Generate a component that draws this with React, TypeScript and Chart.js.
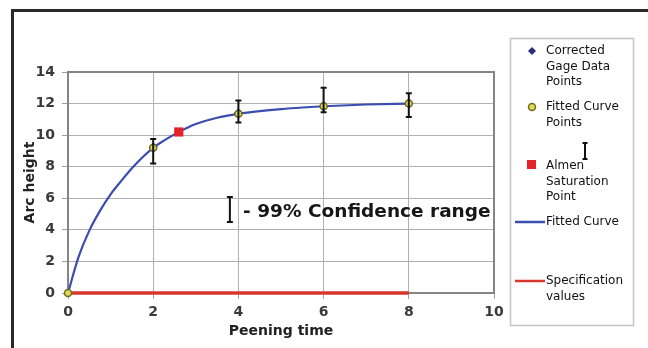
import { useEffect, useRef } from "react";
import { Chart, registerables } from "chart.js";

Chart.register(...registerables);

// ---- data ----
const gageTimes = [2, 4, 6, 8];
const gageValues = [9.25, 11.4, 11.8, 12.0];
const errLow = [8.2, 10.8, 11.45, 11.15];
const errHigh = [9.75, 12.2, 13.0, 12.65];

const fittedTimes = [0, 2, 4, 6, 8];
const fittedValues = [0, 9.2, 11.35, 11.83, 12.0];

const almenTimes = [2.6];
const almenValues = [10.2];

const curveTimes = [0, 0.25, 0.5, 0.75, 1, 1.25, 1.5, 1.75, 2, 2.25, 2.5, 2.75, 3, 3.5, 4, 4.5, 5, 5.5, 6, 7, 8];
const curveValues = [0, 2.3, 3.95, 5.2, 6.25, 7.1, 7.9, 8.6, 9.2, 9.65, 10.05, 10.4, 10.7, 11.1, 11.35, 11.52, 11.65, 11.75, 11.83, 11.94, 12.0];

const specTimes = [0, 8];
const specValues = [0, 0];

const xTickValues = [0, 2, 4, 6, 8, 10];
const yTickValues = [0, 2, 4, 6, 8, 10, 12, 14];

const seriesNames = [
  "Corrected Gage Data Points",
  "Fitted Curve Points",
  "Almen Saturation Point",
  "Fitted Curve",
  "Specification values",
];
const legendLines = [
  ["Corrected", "Gage Data", "Points"],
  ["Fitted Curve", "Points"],
  ["Almen", "Saturation", "Point"],
  ["Fitted Curve"],
  ["Specification", "values"],
];

const noteText = "- 99% Confidence range";
const noteBarX = 3.8;
const noteBarLow = 4.5;
const noteBarHigh = 6.08;
const noteTextX = 4.11;
const noteTextY = 5.13;

const xTitle = "Peening time";
const yTitle = "Arc height";

// ---- styles ----
const NAVY = "#2b2b80";
const YELLOW = "#e2da5a";
const OLIVE = "#6e6a1e";
const RED = "#e42328";
const BLUE = "#3a4db0";
const SPEC = "#d8382c";

function drawIBar(ctx: CanvasRenderingContext2D, x: number, yTop: number, yBot: number, cap: number) {
  ctx.save();
  ctx.strokeStyle = "#111";
  ctx.lineWidth = 2;
  ctx.beginPath();
  ctx.moveTo(x, yTop);
  ctx.lineTo(x, yBot);
  ctx.moveTo(x - cap / 2, yTop);
  ctx.lineTo(x + cap / 2, yTop);
  ctx.moveTo(x - cap / 2, yBot);
  ctx.lineTo(x + cap / 2, yBot);
  ctx.stroke();
  ctx.restore();
}

const framePlugin = {
  id: "framePlugin",
  beforeDraw(chart: any) {
    const ctx = chart.ctx as CanvasRenderingContext2D;
    ctx.save();
    ctx.fillStyle = "#ffffff";
    ctx.fillRect(0, 0, chart.width, chart.height);
    ctx.restore();
  },
  beforeDatasetsDraw(chart: any) {
    const ctx = chart.ctx as CanvasRenderingContext2D;
    const a = chart.chartArea;
    ctx.save();
    ctx.strokeStyle = "#858585";
    ctx.lineWidth = 2;
    ctx.strokeRect(a.left, a.top, a.right - a.left, a.bottom - a.top);
    ctx.restore();
  },
  afterDatasetsDraw(chart: any) {
    const ctx = chart.ctx as CanvasRenderingContext2D;
    const xs = chart.scales.x;
    const ys = chart.scales.y;
    gageTimes.forEach((t, i) => {
      drawIBar(ctx, xs.getPixelForValue(t), ys.getPixelForValue(errHigh[i]), ys.getPixelForValue(errLow[i]), 6);
    });
    drawIBar(ctx, xs.getPixelForValue(noteBarX), ys.getPixelForValue(noteBarHigh), ys.getPixelForValue(noteBarLow), 6);
    ctx.save();
    ctx.fillStyle = "#161616";
    ctx.font = "bold 18.5px 'DejaVu Sans'";
    ctx.textAlign = "left";
    ctx.textBaseline = "middle";
    ctx.fillText(noteText, xs.getPixelForValue(noteTextX), ys.getPixelForValue(noteTextY));
    ctx.restore();
  },
  afterDraw(chart: any) {
    const ctx = chart.ctx as CanvasRenderingContext2D;
    ctx.save();
    // outer frame lines
    ctx.strokeStyle = "#2a2a2a";
    ctx.lineWidth = 3;
    ctx.beginPath();
    ctx.moveTo(11, 10.5);
    ctx.lineTo(chart.width, 10.5);
    ctx.moveTo(12.5, 9);
    ctx.lineTo(12.5, chart.height);
    ctx.stroke();

    // legend box
    ctx.strokeStyle = "#c4c4c4";
    ctx.lineWidth = 1.5;
    ctx.strokeRect(510.5, 38.5, 123, 287);

    const tx = 546;
    ctx.font = "12px 'DejaVu Sans'";
    ctx.textAlign = "left";
    ctx.textBaseline = "middle";
    const writeLines = (lines: string[], y0: number) => {
      ctx.fillStyle = "#111";
      lines.forEach((s, i) => ctx.fillText(s, tx, y0 + i * 15.5));
    };

    // 1: diamond
    ctx.fillStyle = NAVY;
    ctx.beginPath();
    ctx.moveTo(532, 47);
    ctx.lineTo(536, 51);
    ctx.lineTo(532, 55);
    ctx.lineTo(528, 51);
    ctx.closePath();
    ctx.fill();
    writeLines(legendLines[0], 51);

    // 2: circle
    ctx.beginPath();
    ctx.arc(532, 107, 3.5, 0, Math.PI * 2);
    ctx.fillStyle = YELLOW;
    ctx.fill();
    ctx.strokeStyle = OLIVE;
    ctx.lineWidth = 1.5;
    ctx.stroke();
    writeLines(legendLines[1], 107);

    // error bar icon
    drawIBar(ctx, 585, 143, 159, 5);

    // 3: red square
    ctx.fillStyle = RED;
    ctx.fillRect(527, 160, 9, 9);
    writeLines(legendLines[2], 166);

    // 4: blue line
    ctx.strokeStyle = BLUE;
    ctx.lineWidth = 2.5;
    ctx.beginPath();
    ctx.moveTo(515, 222);
    ctx.lineTo(545, 222);
    ctx.stroke();
    writeLines(legendLines[3], 222);

    // 5: red spec line
    ctx.strokeStyle = SPEC;
    ctx.lineWidth = 2.5;
    ctx.beginPath();
    ctx.moveTo(515, 281);
    ctx.lineTo(545, 281);
    ctx.stroke();
    writeLines(legendLines[4], 281);

    ctx.restore();
  },
};

export default function App() {
  const ref = useRef<HTMLCanvasElement | null>(null);

  useEffect(() => {
    if (!ref.current) return;
    const toPts = (xs: number[], ys: number[]) => xs.map((x, i) => ({ x, y: ys[i] }));
    const chart = new Chart(ref.current, {
      type: "scatter",
      data: {
        datasets: [
          {
            label: seriesNames[2],
            data: toPts(almenTimes, almenValues),
            pointStyle: "rect",
            pointRadius: 6.5,
            backgroundColor: RED,
            borderColor: RED,
            borderWidth: 0,
            showLine: false,
            clip: false,
          },
          {
            label: seriesNames[1],
            data: toPts(fittedTimes, fittedValues),
            pointStyle: "circle",
            pointRadius: 3.5,
            backgroundColor: YELLOW,
            borderColor: OLIVE,
            borderWidth: 1.5,
            showLine: false,
            clip: false,
          },
          {
            label: seriesNames[0],
            data: toPts(gageTimes, gageValues),
            pointStyle: "rectRot",
            pointRadius: 4.5,
            backgroundColor: NAVY,
            borderColor: NAVY,
            borderWidth: 0,
            showLine: false,
            clip: false,
          },
          {
            label: seriesNames[3],
            data: toPts(curveTimes, curveValues),
            showLine: true,
            borderColor: BLUE,
            borderWidth: 2.2,
            pointRadius: 0,
            cubicInterpolationMode: "monotone",
            clip: false,
          },
          {
            label: seriesNames[4],
            data: toPts(specTimes, specValues),
            showLine: true,
            borderColor: SPEC,
            borderWidth: 3.5,
            pointRadius: 0,
            clip: false,
          },
        ],
      },
      options: {
        responsive: false,
        animation: false,
        layout: { padding: { left: 14, top: 72, right: 154, bottom: 6 } },
        plugins: {
          legend: { display: false },
          tooltip: { enabled: false },
          title: { display: false },
        },
        scales: {
          x: {
            type: "linear",
            min: 0,
            max: 10,
            afterFit: (s: any) => {
              s.height = 49;
            },
            afterBuildTicks: (s: any) => {
              s.ticks = xTickValues.map((v) => ({ value: v }));
            },
            ticks: {
              font: { family: "'DejaVu Sans'", size: 14, weight: "bold" },
              color: "#3a3a3a",
              padding: 5,
            },
            grid: { color: "#b0b0b0", lineWidth: 1, tickLength: 6, tickColor: "#a0a0a0" },
            border: { display: false },
            title: {
              display: true,
              text: xTitle,
              font: { family: "'DejaVu Sans'", size: 14, weight: "bold" },
              color: "#222",
              padding: { top: 0, bottom: 2 },
            },
          },
          y: {
            type: "linear",
            min: 0,
            max: 14,
            afterFit: (s: any) => {
              s.width = 54;
            },
            afterBuildTicks: (s: any) => {
              s.ticks = yTickValues.map((v) => ({ value: v }));
            },
            ticks: {
              font: { family: "'DejaVu Sans'", size: 14, weight: "bold" },
              color: "#3a3a3a",
              padding: 7,
            },
            grid: { color: "#b0b0b0", lineWidth: 1, tickLength: 6, tickColor: "#a0a0a0" },
            border: { display: false },
            title: {
              display: true,
              text: yTitle,
              font: { family: "'DejaVu Sans'", size: 14, weight: "bold" },
              color: "#222",
              padding: { top: 8, bottom: 0 },
            },
          },
        },
      },
      plugins: [framePlugin],
    } as any);
    return () => chart.destroy();
  }, []);

  return (
    <div style={{ position: "fixed", left: 0, top: 0, width: 648, height: 348 }}>
      <canvas ref={ref} width={648} height={348} style={{ display: "block" }} />
    </div>
  );
}
